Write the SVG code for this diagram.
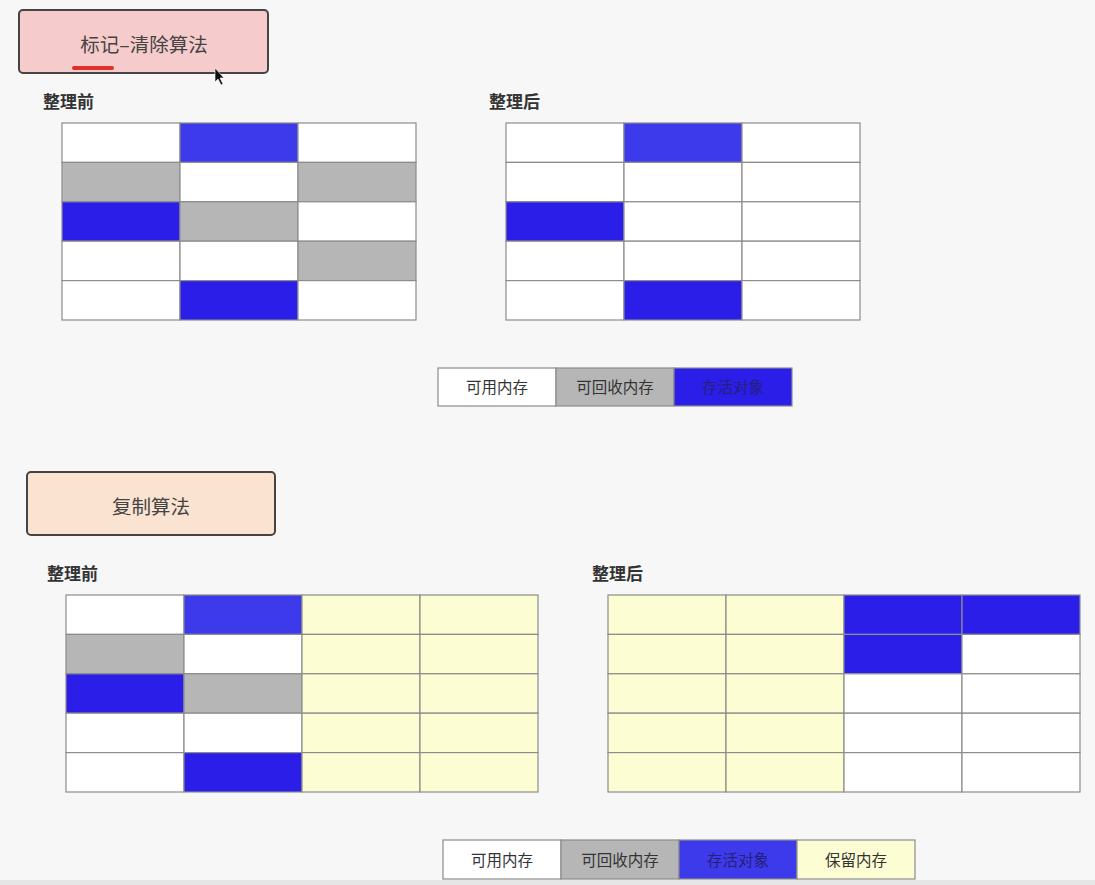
<svg xmlns="http://www.w3.org/2000/svg" width="1095" height="885" viewBox="0 0 1095 885">
<style>
text{font-family:"Noto Sans CJK SC","Noto Sans",sans-serif;}
.c{stroke:#8c8c8c;stroke-width:1.2;}
.w{fill:#ffffff;}
.g{fill:#b6b6b6;}
.b{fill:#2a1ee8;}
.lb{fill:#3d3aeb;}
.y{fill:#fdfdd3;}
.h{font-size:17px;font-weight:bold;fill:#333;}
.t{font-size:19.5px;fill:#444;text-anchor:middle;}
.l{font-size:15.5px;fill:#333;text-anchor:middle;}
.box{stroke:#444;stroke-width:2;}
</style>
<rect x="0" y="0" width="1095" height="885" fill="#f7f7f7"/>
<rect x="0" y="880" width="1095" height="5" fill="#e6e6e6"/>

<g id="title-mark-sweep">
<rect class="box" x="19" y="10" width="249" height="63" rx="4" fill="#f5cbcb"/>
<text class="t" x="144" y="52">标记–清除算法</text>
<line x1="74" y1="68" x2="112" y2="68" stroke="#e0302a" stroke-width="4" stroke-linecap="round"/>
</g>

<g id="label-before-1"><text class="h" x="43" y="108">整理前</text></g>
<g id="label-after-1"><text class="h" x="489" y="108">整理后</text></g>

<g id="grid-ms-before">
<rect class="c w" x="62" y="123" width="118" height="39.4"/>
<rect class="c lb" x="180" y="123" width="118" height="39.4"/>
<rect class="c w" x="298" y="123" width="118" height="39.4"/>
<rect class="c g" x="62" y="162.4" width="118" height="39.4"/>
<rect class="c w" x="180" y="162.4" width="118" height="39.4"/>
<rect class="c g" x="298" y="162.4" width="118" height="39.4"/>
<rect class="c b" x="62" y="201.8" width="118" height="39.4"/>
<rect class="c g" x="180" y="201.8" width="118" height="39.4"/>
<rect class="c w" x="298" y="201.8" width="118" height="39.4"/>
<rect class="c w" x="62" y="241.2" width="118" height="39.4"/>
<rect class="c w" x="180" y="241.2" width="118" height="39.4"/>
<rect class="c g" x="298" y="241.2" width="118" height="39.4"/>
<rect class="c w" x="62" y="280.6" width="118" height="39.4"/>
<rect class="c b" x="180" y="280.6" width="118" height="39.4"/>
<rect class="c w" x="298" y="280.6" width="118" height="39.4"/>
</g>

<g id="grid-ms-after">
<rect class="c w" x="506" y="123" width="118" height="39.4"/>
<rect class="c lb" x="624" y="123" width="118" height="39.4"/>
<rect class="c w" x="742" y="123" width="118" height="39.4"/>
<rect class="c w" x="506" y="162.4" width="118" height="39.4"/>
<rect class="c w" x="624" y="162.4" width="118" height="39.4"/>
<rect class="c w" x="742" y="162.4" width="118" height="39.4"/>
<rect class="c b" x="506" y="201.8" width="118" height="39.4"/>
<rect class="c w" x="624" y="201.8" width="118" height="39.4"/>
<rect class="c w" x="742" y="201.8" width="118" height="39.4"/>
<rect class="c w" x="506" y="241.2" width="118" height="39.4"/>
<rect class="c w" x="624" y="241.2" width="118" height="39.4"/>
<rect class="c w" x="742" y="241.2" width="118" height="39.4"/>
<rect class="c w" x="506" y="280.6" width="118" height="39.4"/>
<rect class="c b" x="624" y="280.6" width="118" height="39.4"/>
<rect class="c w" x="742" y="280.6" width="118" height="39.4"/>
</g>

<g id="legend-1">
<rect class="c w" x="438" y="368" width="118" height="38"/>
<rect class="c g" x="556" y="368" width="118" height="38"/>
<rect class="c b" x="674" y="368" width="118" height="38"/>
<text class="l" x="497" y="393">可用内存</text>
<text class="l" x="615" y="393">可回收内存</text>
<text class="l" x="733" y="393" style="fill:#25207a">存活对象</text>
</g>

<g id="title-copy">
<rect class="box" x="27" y="472" width="248" height="63" rx="4" fill="#fae3d0"/>
<text class="t" x="151" y="514">复制算法</text>
</g>

<g id="label-before-2"><text class="h" x="47" y="580">整理前</text></g>
<g id="label-after-2"><text class="h" x="592" y="580">整理后</text></g>

<g id="grid-copy-before">
<rect class="c w" x="66" y="595" width="118" height="39.4"/>
<rect class="c lb" x="184" y="595" width="118" height="39.4"/>
<rect class="c y" x="302" y="595" width="118" height="39.4"/>
<rect class="c y" x="420" y="595" width="118" height="39.4"/>
<rect class="c g" x="66" y="634.4" width="118" height="39.4"/>
<rect class="c w" x="184" y="634.4" width="118" height="39.4"/>
<rect class="c y" x="302" y="634.4" width="118" height="39.4"/>
<rect class="c y" x="420" y="634.4" width="118" height="39.4"/>
<rect class="c b" x="66" y="673.8" width="118" height="39.4"/>
<rect class="c g" x="184" y="673.8" width="118" height="39.4"/>
<rect class="c y" x="302" y="673.8" width="118" height="39.4"/>
<rect class="c y" x="420" y="673.8" width="118" height="39.4"/>
<rect class="c w" x="66" y="713.2" width="118" height="39.4"/>
<rect class="c w" x="184" y="713.2" width="118" height="39.4"/>
<rect class="c y" x="302" y="713.2" width="118" height="39.4"/>
<rect class="c y" x="420" y="713.2" width="118" height="39.4"/>
<rect class="c w" x="66" y="752.6" width="118" height="39.4"/>
<rect class="c b" x="184" y="752.6" width="118" height="39.4"/>
<rect class="c y" x="302" y="752.6" width="118" height="39.4"/>
<rect class="c y" x="420" y="752.6" width="118" height="39.4"/>
</g>

<g id="grid-copy-after">
<rect class="c y" x="608" y="595" width="118" height="39.4"/>
<rect class="c y" x="726" y="595" width="118" height="39.4"/>
<rect class="c b" x="844" y="595" width="118" height="39.4"/>
<rect class="c b" x="962" y="595" width="118" height="39.4"/>
<rect class="c y" x="608" y="634.4" width="118" height="39.4"/>
<rect class="c y" x="726" y="634.4" width="118" height="39.4"/>
<rect class="c b" x="844" y="634.4" width="118" height="39.4"/>
<rect class="c w" x="962" y="634.4" width="118" height="39.4"/>
<rect class="c y" x="608" y="673.8" width="118" height="39.4"/>
<rect class="c y" x="726" y="673.8" width="118" height="39.4"/>
<rect class="c w" x="844" y="673.8" width="118" height="39.4"/>
<rect class="c w" x="962" y="673.8" width="118" height="39.4"/>
<rect class="c y" x="608" y="713.2" width="118" height="39.4"/>
<rect class="c y" x="726" y="713.2" width="118" height="39.4"/>
<rect class="c w" x="844" y="713.2" width="118" height="39.4"/>
<rect class="c w" x="962" y="713.2" width="118" height="39.4"/>
<rect class="c y" x="608" y="752.6" width="118" height="39.4"/>
<rect class="c y" x="726" y="752.6" width="118" height="39.4"/>
<rect class="c w" x="844" y="752.6" width="118" height="39.4"/>
<rect class="c w" x="962" y="752.6" width="118" height="39.4"/>
</g>

<g id="legend-2">
<rect class="c w" x="443" y="840" width="118" height="39"/>
<rect class="c g" x="561" y="840" width="118" height="39"/>
<rect class="c lb" x="679" y="840" width="118" height="39"/>
<rect class="c y" x="797" y="840" width="118" height="39"/>
<text class="l" x="502" y="866">可用内存</text>
<text class="l" x="620" y="866">可回收内存</text>
<text class="l" x="738" y="866" style="fill:#25207a">存活对象</text>
<text class="l" x="856" y="866">保留内存</text>
</g>

<g id="cursor">
<path d="M215,68 L215,82 L218,79 L221,85 L223,84 L220,78 L224,78 Z" fill="#111" stroke="#fff" stroke-width="0.6"/>
</g>
</svg>
